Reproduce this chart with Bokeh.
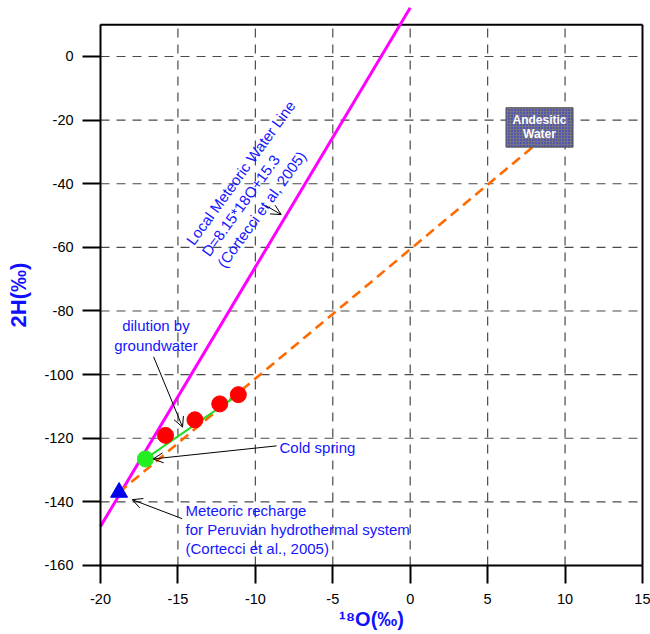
from bokeh.plotting import figure
from bokeh.models import Range1d, FixedTicker, Arrow, OpenHead
from bokeh.core.properties import value
from bokeh.embed import file_html
from bokeh.resources import INLINE

# ---------------- data ----------------
sample_d18o = [-15.8, -13.9, -12.3, -11.1]
sample_d2h = [-119.1, -114.2, -109.2, -106.3]
cold_spring_d18o = [-17.1]
cold_spring_d2h = [-126.5]
recharge_d18o = [-18.8]
recharge_d2h = [-137.0]
andesitic_d18o = [10.0]
andesitic_d2h = [-20.0]
lmwl_slope = 8.15
lmwl_intercept = 15.3
lmwl_d18o = [-20.0, 0.0]
lmwl_d2h = [lmwl_slope * v + lmwl_intercept for v in lmwl_d18o]
x_ticks = [-20, -15, -10, -5, 0, 5, 10, 15]
y_ticks = [-160, -140, -120, -100, -80, -60, -40, -20, 0]
x_min, x_max = -20, 15
y_min, y_top = -160, 10

# ---------------- figure ----------------
FONT = value("Liberation Sans")
p = figure(width=650, height=634,
           x_range=Range1d(-26.458, 15.517), y_range=Range1d(-181.69, 17.60),
           output_backend="svg", toolbar_location=None,
           min_border_left=0, min_border_right=0, min_border_top=0, min_border_bottom=0)
p.outline_line_color = None
p.grid.visible = False
p.background_fill_color = "white"

# manual dashed grid
grid_x = [t for t in x_ticks if x_min < t < x_max]
grid_y = [t for t in y_ticks if y_min < t < y_top]
p.segment(x0=grid_x, y0=[y_min] * len(grid_x), x1=grid_x, y1=[y_top] * len(grid_x),
          line_color="#4a4a4a", line_width=1.2, line_dash="9 7")
p.segment(x0=[x_min] * len(grid_y), y0=grid_y, x1=[x_max] * len(grid_y), y1=grid_y,
          line_color="#4a4a4a", line_width=1.2, line_dash="9 7")

# frame top & right
p.segment(x0=[x_min, x_max], y0=[y_top, y_min], x1=[x_max, x_max], y1=[y_top, y_top],
          line_color="black", line_width=2)

# axes
xa = p.xaxis[0]
xa.fixed_location = y_min
xa.bounds = (x_min, x_max)
xa.ticker = FixedTicker(ticks=x_ticks)
xa.major_label_overrides = {t: str(t) for t in x_ticks}
ya = p.yaxis[0]
ya.fixed_location = x_min
ya.bounds = (y_min, y_top)
ya.ticker = FixedTicker(ticks=y_ticks)
ya.major_label_overrides = {t: str(t) for t in y_ticks}
for ax in (xa, ya):
    ax.axis_line_width = 2
    ax.axis_line_color = "black"
    ax.major_tick_out = 18
    ax.major_tick_in = 0
    ax.major_tick_line_width = 2
    ax.minor_tick_line_color = None
    ax.major_label_text_font = "Liberation Sans"
    ax.major_label_text_font_size = "14.5px"
    ax.major_label_text_color = "black"
    ax.axis_label_text_font = "Liberation Sans"
    ax.axis_label_text_font_style = "bold"
    ax.axis_label_text_color = "#1010ff"
xa.major_label_standoff = 11
xa.axis_label_standoff = 0
xa.axis_label_text_font_size = "20px"
xa.axis_label = "¹⁸O(‰)"
ya.major_label_standoff = 9
ya.axis_label_standoff = 10
ya.axis_label_text_font_size = "22px"
ya.axis_label = "2H(‰)"

# LMWL
p.line(lmwl_d18o, lmwl_d2h, line_color="#ff00ff", line_width=3)

# mixing line recharge -> andesitic water
p.line([recharge_d18o[0], andesitic_d18o[0]], [recharge_d2h[0], andesitic_d2h[0]],
       line_color="#ff6a00", line_width=2.6, line_dash="10 6")

# dilution line
p.line([cold_spring_d18o[0], sample_d18o[-1]], [cold_spring_d2h[0], sample_d2h[-1]],
       line_color="#22dd22", line_width=2)

p.scatter(sample_d18o, sample_d2h, size=16, marker="circle",
          fill_color="#ff0000", line_color="#ff0000")
p.scatter(cold_spring_d18o, cold_spring_d2h, size=16, marker="circle",
          fill_color="#22ee22", line_color="#22ee22")
p.scatter(recharge_d18o, recharge_d2h, size=17, marker="triangle",
          fill_color="#0000ee", line_color="#0000ee")

# Andesitic water box
p.rect(x=[andesitic_d18o[0] - 1.65], y=[andesitic_d2h[0] - 2.3], width=4.33, height=12.4,
       fill_color="#767680", line_color="#555555", line_width=1,
       hatch_pattern="dot", hatch_color="#2020ff", hatch_scale=3, hatch_weight=1)
p.text(x=[andesitic_d18o[0] - 1.65], y=[andesitic_d2h[0] - 2.3], text=["Andesitic\nWater"],
       text_font=FONT, text_font_size=value("12px"), text_font_style="bold",
       text_color="white", text_align="center", text_baseline="middle",
       text_line_height=1.0)

TXT = dict(text_font=FONT, text_font_size=value("15px"), text_color="#1515ff")

# LMWL label (rotated)
p.text(x=[-13.25], y=[-62.2],
       text=["Local Meteoric Water Line\nD=8.15*18O+15.3\n(Cortecci et al, 2005)"],
       angle=54, angle_units="deg", text_align="left", text_baseline="middle",
       text_line_height=1.13, **TXT)
p.text(x=[-16.42], y=[-87.6], text=["dilution by\ngroundwater"],
       text_align="center", text_baseline="middle", text_line_height=1.18, **TXT)
p.text(x=[-8.44], y=[-122.9], text=["Cold spring"],
       text_align="left", text_baseline="middle", **TXT)
p.text(x=[-14.51], y=[-148.6],
       text=["Meteoric recharge\nfor Peruvian hydrothermal system\n(Cortecci et al., 2005)"],
       text_align="left", text_baseline="middle", text_line_height=1.13, **TXT)

# arrows
for xs, ys, xe, ye in [(-9.35, -46.8, -8.33, -49.7),
                       (-16.57, -94.4, -14.7, -116.5),
                       (-8.63, -122.4, -16.6, -126.5),
                       (-14.72, -145.3, -17.95, -139.3)]:
    p.add_layout(Arrow(end=OpenHead(size=10, line_width=1, line_color="black"),
                       x_start=xs, y_start=ys, x_end=xe, y_end=ye,
                       line_width=1, line_color="black"))

open("out.html", "w").write(file_html(p, INLINE))
